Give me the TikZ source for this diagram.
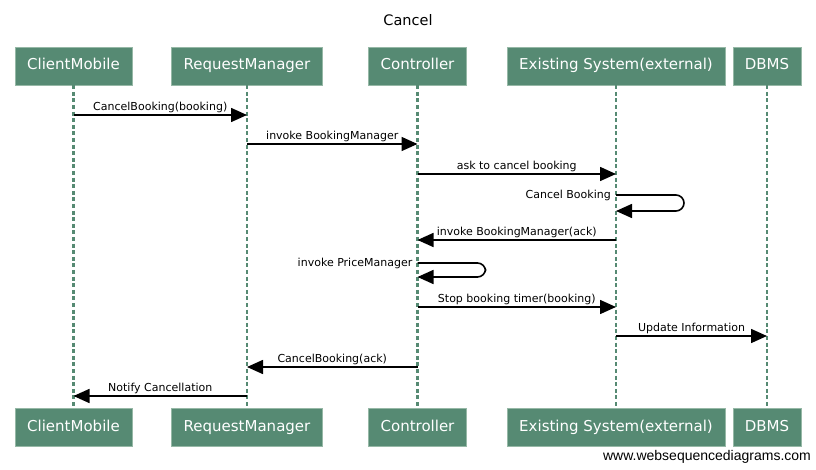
\documentclass[tikz,border=0pt]{standalone}
\usepackage{fontspec}
\setmainfont{DejaVu Sans}
\newfontfamily\wsdfont{Liberation Sans}
\usetikzlibrary{arrows.meta}
\definecolor{wsdgreen}{RGB}{86,138,115}
\definecolor{wsdedge}{RGB}{150,184,166}

\begin{document}
\begin{tikzpicture}[x=1pt,y=-1pt,
    actor/.style={draw=wsdedge,fill=wsdgreen,text=white,font=\fontsize{15}{18}\selectfont,
      minimum height=38pt,inner xsep=12pt,text height=11pt,text depth=3pt},
    life/.style={draw=wsdgreen,line width=2.6pt,dash pattern=on 4pt off 2.6pt},
    msg/.style={line width=1.6pt,-{Triangle[length=16pt,width=14pt]}},
    lbl/.style={font=\fontsize{11}{13}\selectfont,inner sep=1pt}]
    \useasboundingbox (0,0) rectangle (816,470);
    \node (title) at (408,20) {\fontsize{14.5}{17}\selectfont Cancel};
    \def\ps{ClientMobile/73.5,RequestManager/247,Controller/417.5,Existing System(external)/616,DBMS/767}
    %        1                2                  3                4                             5
    \foreach \p/\x [count=\i from 1] in \ps {
      \node[actor] (t\i) at (\x,66) {\p};
      \node[actor] (b\i) at (\x,427) {\p};
      \draw[life] (t\i.south) -- (b\i.north);}
    \def\ms{115,144,174,195,240,263,307,336,367,396}
    \foreach \y [count=\j from 1] in \ms {\coordinate (m\j) at (0,\y);}
    \draw[msg] (t1 |- m1) -- node[lbl,above] {CancelBooking(booking)} (t2 |- m1);
    \draw[msg] (t2 |- m2) -- node[lbl,above] {invoke BookingManager} (t3 |- m2);
    \draw[msg] (t3 |- m3) -- node[lbl,above] {ask to cancel booking} (t4 |- m3);
    \draw[msg,rounded corners=8pt] (t4 |- m4) -| ++(68,16) -- ++(-68,0);
    \node[lbl,left,xshift=-4pt] (l4) at (t4 |- m4) {Cancel Booking};
    \draw[msg] (t4 |- m5) -- node[lbl,above] {invoke BookingManager(ack)} (t3 |- m5);
    \draw[msg,rounded corners=8pt] (t3 |- m6) -| ++(68,14) -- ++(-68,0);
    \node[lbl,left,xshift=-4pt] (l6) at (t3 |- m6) {invoke PriceManager};
    \draw[msg] (t3 |- m7) -- node[lbl,above] {Stop booking timer(booking)} (t4 |- m7);
    \draw[msg] (t4 |- m8) -- node[lbl,above] {Update Information} (t5 |- m8);
    \draw[msg] (t3 |- m9) -- node[lbl,above] {CancelBooking(ack)} (t2 |- m9);
    \draw[msg] (t2 |- m10) -- node[lbl,above] {Notify Cancellation} (t1 |- m10);
    \node[font=\wsdfont\fontsize{14}{16}\selectfont] (wsd) at (707,457) {www.websequencediagrams.com};
\end{tikzpicture}
\end{document}
